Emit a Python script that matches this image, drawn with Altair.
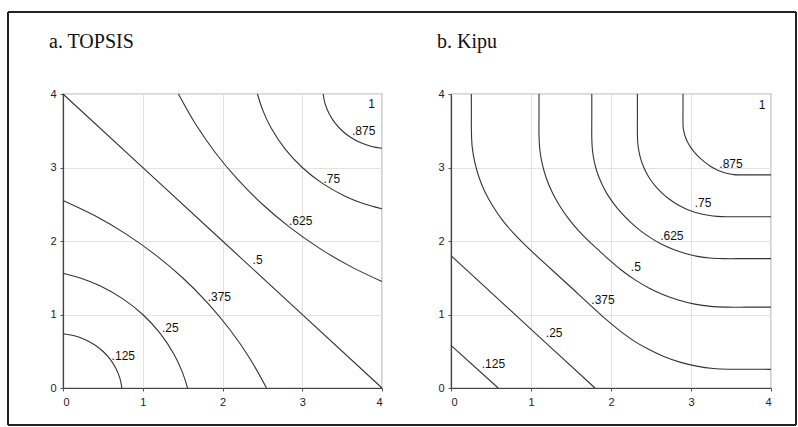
import altair as alt
import pandas as pd

# ---------------- data ----------------
# a. TOPSIS contour lines (x, y pairs along each contour)
TOPSIS_125_X = [0.0, 0.130, 0.265, 0.390, 0.500, 0.593, 0.664, 0.714, 0.738]
TOPSIS_125_Y = [0.738, 0.714, 0.664, 0.593, 0.500, 0.390, 0.265, 0.130, 0.0]
TOPSIS_25_X = [0.0, 0.226, 0.463, 0.747, 1.0, 1.216, 1.390, 1.493, 1.562]
TOPSIS_25_Y = [1.562, 1.493, 1.390, 1.216, 1.0, 0.747, 0.463, 0.226, 0.0]
TOPSIS_375_X = [0.0, 0.402, 0.792, 1.159, 1.5, 1.812, 2.094, 2.343, 2.552]
TOPSIS_375_Y = [2.552, 2.343, 2.094, 1.812, 1.5, 1.159, 0.792, 0.402, 0.0]
TOPSIS_5_X = [0.0, 2.0, 4.0]
TOPSIS_5_Y = [4.0, 2.0, 0.0]
TOPSIS_625_X = [1.448, 1.658, 1.906, 2.188, 2.5, 2.841, 3.208, 3.598, 4.0]
TOPSIS_625_Y = [4.0, 3.598, 3.208, 2.841, 2.5, 2.188, 1.906, 1.658, 1.448]
TOPSIS_75_X = [2.438, 2.507, 2.610, 2.784, 3.0, 3.253, 3.537, 3.774, 4.0]
TOPSIS_75_Y = [4.0, 3.774, 3.537, 3.253, 3.0, 2.784, 2.610, 2.507, 2.438]
TOPSIS_875_X = [3.262, 3.286, 3.336, 3.408, 3.5, 3.610, 3.735, 3.870, 4.0]
TOPSIS_875_Y = [4.0, 3.870, 3.735, 3.610, 3.5, 3.408, 3.336, 3.286, 3.262]

TOPSIS_LABEL_TEXT = ["1", ".875", ".75", ".625", ".5", ".375", ".25", ".125"]
TOPSIS_LABEL_X = [3.87, 3.77, 3.37, 2.98, 2.44, 1.96, 1.345, 0.756]
TOPSIS_LABEL_Y = [3.87, 3.49, 2.85, 2.27, 1.74, 1.24, 0.81, 0.44]

# b. Kipu contour lines
KIPU_125_X = [0.0, 0.59]
KIPU_125_Y = [0.58, 0.0]
KIPU_25_X = [0.0, 0.90, 1.80]
KIPU_25_Y = [1.80, 0.90, 0.0]
KIPU_375_X = [0.254, 0.2545, 0.255, 0.265, 0.298, 0.352, 0.428, 0.526, 0.645, 0.787, 0.95,
              1.435, 1.92, 2.10, 2.28, 2.47, 2.66, 2.86, 3.07, 3.28, 3.5, 3.75, 4.0]
KIPU_375_Y = [4.0, 3.75, 3.5, 3.28, 3.07, 2.86, 2.66, 2.47, 2.28, 2.10, 1.92,
              1.435, 0.95, 0.787, 0.645, 0.526, 0.428, 0.352, 0.298, 0.265, 0.255, 0.2545, 0.254]
KIPU_5_X = [1.10, 1.10, 1.10, 1.11, 1.141, 1.193, 1.265, 1.358, 1.471, 1.605, 1.76, 1.86,
            1.96, 2.128, 2.301, 2.479, 2.663, 2.851, 3.046, 3.245, 3.45, 3.7, 4.0]
KIPU_5_Y = [4.0, 3.7, 3.45, 3.245, 3.046, 2.851, 2.663, 2.479, 2.301, 2.128, 1.96, 1.86,
            1.76, 1.605, 1.471, 1.358, 1.265, 1.193, 1.141, 1.11, 1.10, 1.10, 1.10]
KIPU_625_X = [1.76, 1.76, 1.76, 1.768, 1.791, 1.829, 1.883, 1.951, 2.036, 2.135, 2.25,
              2.375, 2.506, 2.641, 2.783, 2.929, 3.081, 3.238, 3.40, 3.7, 4.0]
KIPU_625_Y = [4.0, 3.7, 3.40, 3.238, 3.081, 2.929, 2.783, 2.641, 2.506, 2.375, 2.25,
              2.135, 2.036, 1.951, 1.883, 1.829, 1.791, 1.768, 1.76, 1.76, 1.76]
KIPU_75_X = [2.33, 2.33, 2.33, 2.335, 2.350, 2.374, 2.409, 2.453, 2.507, 2.571, 2.645,
             2.727, 2.813, 2.906, 3.004, 3.107, 3.216, 3.330, 3.45, 3.7, 4.0]
KIPU_75_Y = [4.0, 3.7, 3.45, 3.330, 3.216, 3.107, 3.004, 2.906, 2.813, 2.727, 2.645,
             2.571, 2.507, 2.453, 2.409, 2.374, 2.350, 2.335, 2.33, 2.33, 2.33]
KIPU_875_X = [2.90, 2.90, 2.90, 2.903, 2.914, 2.931, 2.955, 2.986, 3.024, 3.069, 3.12,
              3.176, 3.233, 3.291, 3.35, 3.411, 3.473, 3.536, 3.6, 3.8, 4.0]
KIPU_875_Y = [4.0, 3.8, 3.6, 3.536, 3.473, 3.411, 3.35, 3.291, 3.233, 3.176, 3.12,
              3.069, 3.024, 2.986, 2.955, 2.931, 2.914, 2.903, 2.90, 2.90, 2.90]

KIPU_LABEL_TEXT = ["1", ".875", ".75", ".625", ".5", ".375", ".25", ".125"]
KIPU_LABEL_X = [3.89, 3.50, 3.15, 2.76, 2.31, 1.90, 1.29, 0.53]
KIPU_LABEL_Y = [3.85, 3.05, 2.52, 2.07, 1.64, 1.20, 0.75, 0.32]

TICKS = [0, 1, 2, 3, 4]
TITLES = ["a. TOPSIS", "b. Kipu"]


def lines_frame(curves):
    rows = []
    for name, xs, ys in curves:
        for i, (x, y) in enumerate(zip(xs, ys)):
            rows.append({"level": name, "i": i, "x": x, "y": y})
    return pd.DataFrame(rows)


topsis_lines = lines_frame([
    (".125", TOPSIS_125_X, TOPSIS_125_Y), (".25", TOPSIS_25_X, TOPSIS_25_Y),
    (".375", TOPSIS_375_X, TOPSIS_375_Y), (".5", TOPSIS_5_X, TOPSIS_5_Y),
    (".625", TOPSIS_625_X, TOPSIS_625_Y), (".75", TOPSIS_75_X, TOPSIS_75_Y),
    (".875", TOPSIS_875_X, TOPSIS_875_Y),
])
kipu_lines = lines_frame([
    (".125", KIPU_125_X, KIPU_125_Y), (".25", KIPU_25_X, KIPU_25_Y),
    (".375", KIPU_375_X, KIPU_375_Y), (".5", KIPU_5_X, KIPU_5_Y),
    (".625", KIPU_625_X, KIPU_625_Y), (".75", KIPU_75_X, KIPU_75_Y),
    (".875", KIPU_875_X, KIPU_875_Y),
])
topsis_labels = pd.DataFrame({"t": TOPSIS_LABEL_TEXT, "x": TOPSIS_LABEL_X, "y": TOPSIS_LABEL_Y})
kipu_labels = pd.DataFrame({"t": KIPU_LABEL_TEXT, "x": KIPU_LABEL_X, "y": KIPU_LABEL_Y})


def xenc():
    return alt.X("x:Q", scale=alt.Scale(domain=[0, 4], nice=False, zero=False),
                 axis=alt.Axis(values=TICKS, format="d", title=None))


def yenc():
    return alt.Y("y:Q", scale=alt.Scale(domain=[0, 4], nice=False, zero=False),
                 axis=alt.Axis(values=TICKS, format="d", title=None))


def panel(lines_df, labels_df, title, width, with_frame=False):
    lines = alt.Chart(lines_df).mark_line(
        interpolate="catmull-rom", color="#333333", strokeWidth=1.1
    ).encode(x=xenc(), y=yenc(), detail="level:N", order="i:Q")
    labels = alt.Chart(labels_df).mark_text(
        font="Liberation Sans", fontSize=12, color="#111111"
    ).encode(x=xenc(), y=yenc(), text="t:N")
    ttl = alt.Chart(pd.DataFrame({"t": [title]})).mark_text(
        align="left", baseline="alphabetic", font="Liberation Serif",
        fontSize=20, color="#111111"
    ).encode(x=alt.value(-14), y=alt.value(-46), text="t:N")
    layers = [lines, labels, ttl]
    if with_frame:
        one = pd.DataFrame({"a": [0]})
        rule = dict(color="#222222", strokeWidth=2)
        layers += [
            alt.Chart(one).mark_rule(**rule).encode(x=alt.value(-55), x2=alt.value(733), y=alt.value(-82)),
            alt.Chart(one).mark_rule(**rule).encode(x=alt.value(-55), x2=alt.value(733), y=alt.value(331)),
            alt.Chart(one).mark_rule(**rule).encode(x=alt.value(-55), y=alt.value(-82), y2=alt.value(331)),
            alt.Chart(one).mark_rule(**rule).encode(x=alt.value(733), y=alt.value(-82), y2=alt.value(331)),
        ]
    return alt.layer(*layers).properties(width=width, height=294)


left = panel(topsis_lines, topsis_labels, TITLES[0], 319, with_frame=True)
right = panel(kipu_lines, kipu_labels, TITLES[1], 320)

chart = alt.hconcat(left, right, spacing=69, bounds="flush").properties(
    padding={"left": 6, "top": 10, "right": 0, "bottom": 0},
    background="white",
).configure_view(
    stroke="#666666", strokeWidth=1.2
).configure_axis(
    labelFont="Liberation Sans", labelFontSize=11, labelColor="#222222",
    tickColor="#555555", tickSize=3, labelPadding=4,
    gridColor="#e2e2e2", gridWidth=1,
    domainColor="#444444", domainWidth=1.2,
).configure_axisX(labelPadding=5)

chart.save("out.html", embed_options={"renderer": "svg", "actions": False})
